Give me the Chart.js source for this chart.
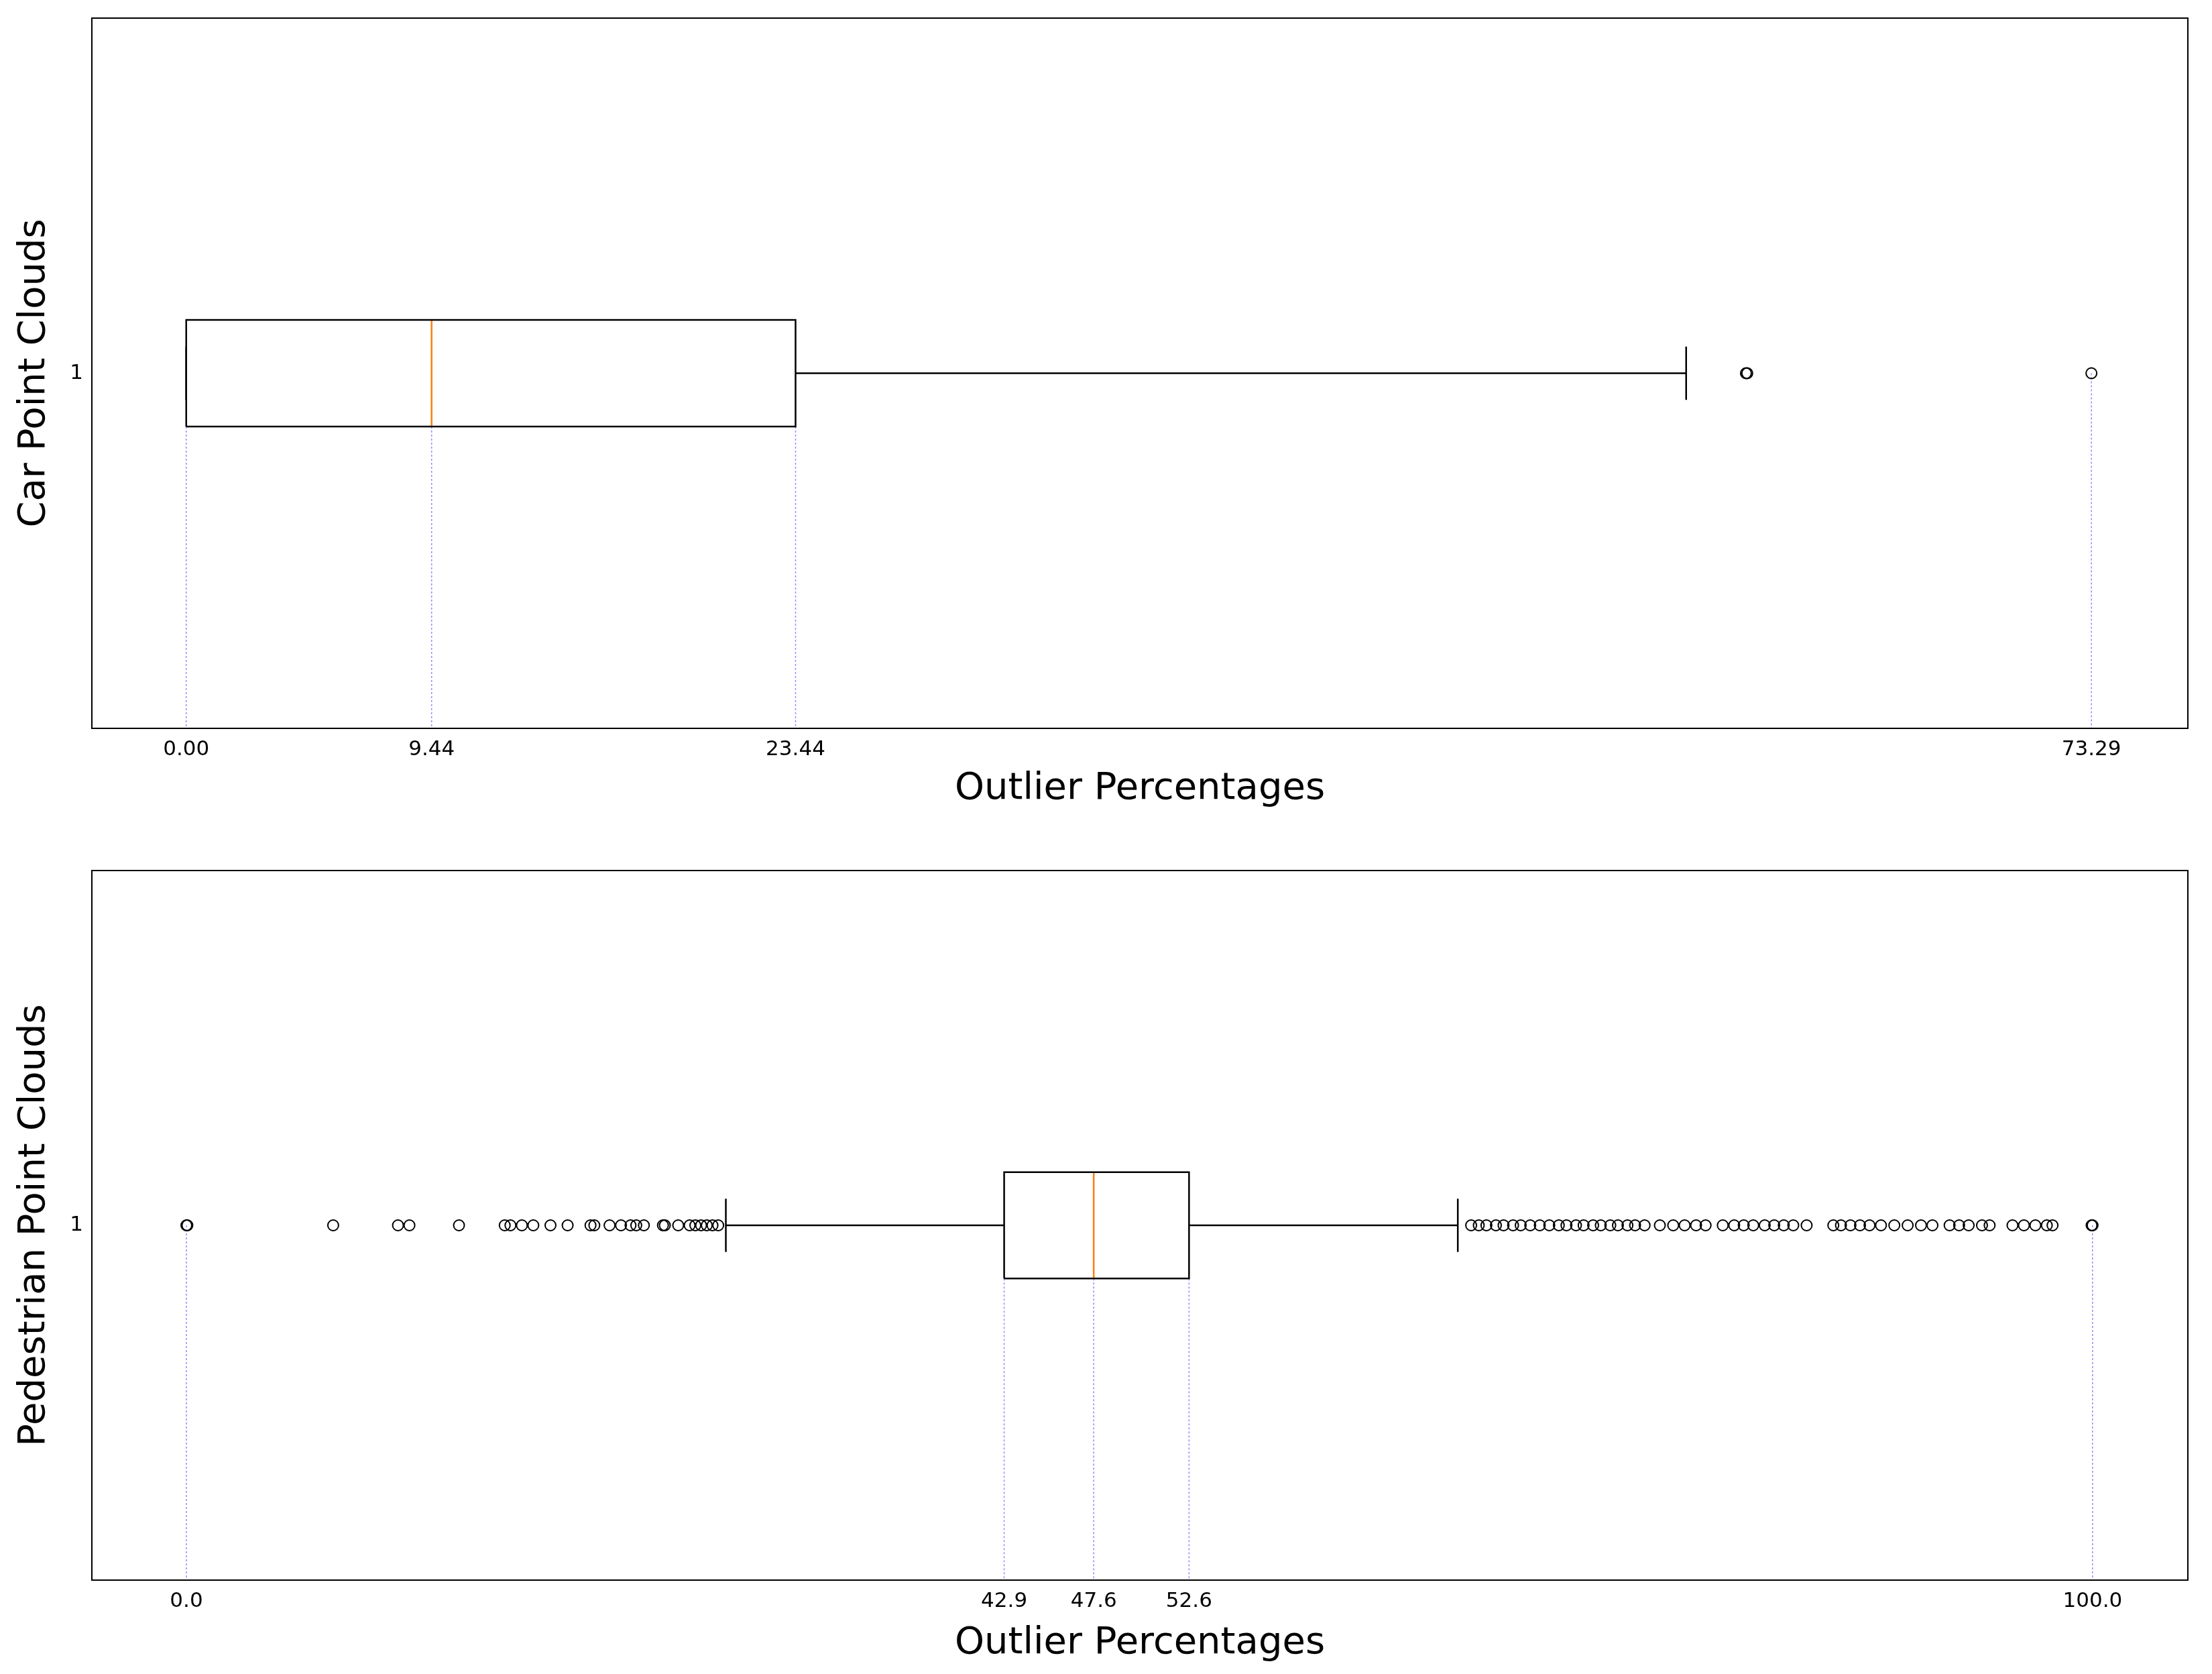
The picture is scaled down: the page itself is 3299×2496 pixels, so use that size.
<!DOCTYPE html>
<html>
<head>
<meta charset="utf-8">
<script src="https://cdn.jsdelivr.net/npm/chart.js@4"></script>
<style>
  body { margin: 0; background: #fff; }
  .panel { position: absolute; left: 0; width: 3299px; height: 1248px; }
</style>
</head>
<body>
<div class="panel" style="top:0"><canvas id="carChart"></canvas></div>
<div class="panel" style="top:1248px"><canvas id="pedChart"></canvas></div>
<script>
// car point clouds: q1, median, q3 and whisker ends
const carBox = [0, 9.44, 23.44];
const carWhiskers = [0, 57.7];
const carOutliers = [60.0, 60.05, 73.29];
const carTicks = [0, 9.44, 23.44, 73.29];
const carGuides = [0, 9.44, 23.44];

// pedestrian point clouds
const pedBox = [42.9, 47.6, 52.6];
const pedWhiskers = [28.3, 66.7];
const pedOutliers = [
  0, 0.05, 7.7, 11.1, 11.7, 14.3, 16.7, 17.0, 17.6, 18.2, 19.1, 20.0, 21.2, 21.4, 22.2, 22.8,
  23.3, 23.6, 24.0, 25.0, 25.1, 25.8, 26.4, 26.7, 27.0, 27.3, 27.6, 27.9,
  67.4, 67.8, 68.2, 68.7, 69.1, 69.6, 70.0, 70.5, 71.0, 71.5, 72.0, 72.4, 72.9, 73.3,
  73.8, 74.2, 74.7, 75.1, 75.6, 76.0, 76.5, 77.3, 78.0, 78.6, 79.2, 79.7, 80.6, 81.2,
  81.7, 82.2, 82.8, 83.3, 83.8, 84.3, 85.0, 86.4, 86.8, 87.3, 87.8, 88.3, 88.9, 89.6,
  90.3, 91.0, 91.6, 92.5, 93.0, 93.5, 94.2, 94.6, 95.8, 96.4, 97.0, 97.6, 97.9, 100, 99.95
];
const pedTicks = [0, 42.9, 47.6, 52.6, 100];
const pedGuides = [42.9, 47.6, 52.6];

const boxHalf = 0.075;

const frame = {
  id: "frame",
  afterDraw(chart) {
    const a = chart.chartArea, c = chart.ctx;
    c.save();
    c.strokeStyle = "#000";
    c.lineWidth = 2;
    c.strokeRect(a.left, a.top, a.right - a.left, a.bottom - a.top);
    c.restore();
  },
};

function line(points, color, dash) {
  return {
    type: "line",
    data: points,
    borderColor: color,
    borderWidth: dash ? 1.5 : 2.5,
    borderDash: dash || [],
    pointRadius: 0,
    fill: false,
  };
}

function makeChart(id, box, whiskers, outliers, ticks, guides, farGuides, xmin, xmax, yTitle, decimals, topPad, xHeight, bottomPad) {
  const [q1, med, q3] = box;
  const datasets = [
    line([{ x: q1, y: 1 - boxHalf }, { x: q3, y: 1 - boxHalf }, { x: q3, y: 1 + boxHalf }, { x: q1, y: 1 + boxHalf }, { x: q1, y: 1 - boxHalf }], "#000"),
    line([{ x: med, y: 1 - boxHalf }, { x: med, y: 1 + boxHalf }], "#ff7f0e"),
    line([{ x: whiskers[0], y: 1 }, { x: q1, y: 1 }], "#000"),
    line([{ x: q3, y: 1 }, { x: whiskers[1], y: 1 }], "#000"),
    line([{ x: whiskers[0], y: 1 - boxHalf / 2 }, { x: whiskers[0], y: 1 + boxHalf / 2 }], "#000"),
    line([{ x: whiskers[1], y: 1 - boxHalf / 2 }, { x: whiskers[1], y: 1 + boxHalf / 2 }], "#000"),
    {
      type: "scatter",
      data: outliers.map((v) => ({ x: v, y: 1 })),
      pointStyle: "circle",
      pointRadius: 8,
      borderWidth: 2,
      borderColor: "#000",
      backgroundColor: "rgba(0,0,0,0)",
    },
  ];
  guides.forEach((g) => datasets.push(line([{ x: g, y: 1 - boxHalf }, { x: g, y: 0.5 }], "rgba(0,0,255,0.45)", [3, 3])));
  farGuides.forEach((g) => datasets.push(line([{ x: g, y: 1 }, { x: g, y: 0.5 }], "rgba(0,0,255,0.45)", [3, 3])));

  return new Chart(document.getElementById(id), {
    type: "scatter",
    data: { datasets },
    options: {
      responsive: true,
      maintainAspectRatio: false,
      animation: false,
      layout: { padding: { top: topPad, right: 36, left: 14, bottom: bottomPad } },
      plugins: { legend: { display: false }, tooltip: { enabled: false } },
      scales: {
        x: {
          type: "linear",
          min: xmin,
          max: xmax,
          grid: { display: false, drawTicks: true, tickLength: 10, tickColor: "#000" },
          border: { display: false },
          afterBuildTicks: (s) => { s.ticks = ticks.map((v) => ({ value: v })); },
          afterFit: (s) => { s.height = xHeight; },
          ticks: {
            autoSkip: false,
            maxRotation: 0,
            color: "#000",
            font: { family: "DejaVu Sans", size: 31 },
            callback: (v) => Number(v).toFixed(decimals),
          },
          title: { display: true, text: "Outlier Percentages", color: "#000", font: { family: "DejaVu Sans", size: 56 } },
        },
        y: {
          min: 0.5,
          max: 1.5,
          grid: { display: false, tickLength: 10, tickColor: "#000" },
          border: { display: false },
          afterBuildTicks: (s) => { s.ticks = [{ value: 1 }]; },
          afterFit: (s) => { s.width = 123; },
          ticks: { color: "#000", font: { family: "DejaVu Sans", size: 31 } },
          title: { display: true, text: yTitle, color: "#000", font: { family: "DejaVu Sans", size: 56 } },
        },
      },
    },
    plugins: [frame],
  });
}

makeChart("carChart", carBox, carWhiskers, carOutliers, carTicks, carGuides, [73.29],
  -3.63, 77.0, "Car Point Clouds", 2, 27, 128, 34);
makeChart("pedChart", pedBox, pedWhiskers, pedOutliers, pedTicks, pedGuides, [0, 100],
  -4.96, 105.0, "Pedestrian Point Clouds", 1, 50, 132, 8);
</script>
</body>
</html>
